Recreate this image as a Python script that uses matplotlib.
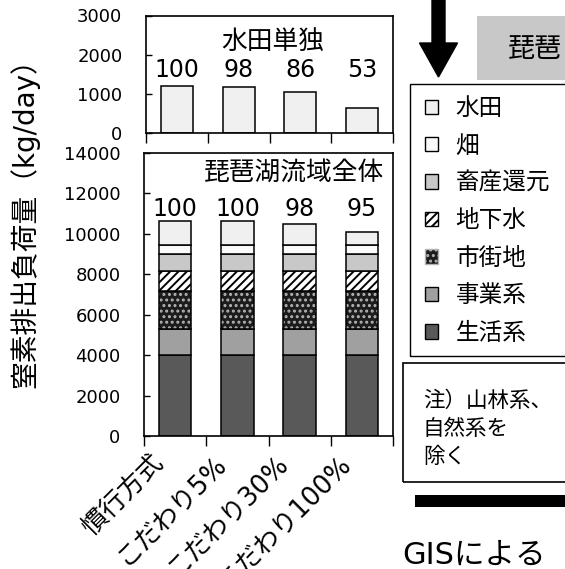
import numpy as np
import matplotlib
matplotlib.use('Agg')
import matplotlib.pyplot as plt
import matplotlib.patches as mpatches

# 数字は DejaVu、日本語は Noto にフォールバック
plt.rcParams['font.family'] = ['DejaVu Sans', 'Noto Sans CJK JP']
plt.rcParams['hatch.linewidth'] = 1.4

# --- データ (kg/day) ---
cases = ['慣行方式', 'こだわり5%', 'こだわり30%', 'こだわり100%']
seikatsu = [4010, 4010, 4010, 4010]    # 生活系
jigyou = [1270, 1270, 1270, 1270]      # 事業系
shigaichi = [1910, 1910, 1910, 1910]   # 市街地
chikasui = [990, 990, 990, 990]        # 地下水
chikusan = [830, 830, 830, 830]        # 畜産還元
hatake = [440, 440, 440, 440]          # 畑
suiden = [1210, 1180, 1040, 650]       # 水田
pct_suiden = ['100', '98', '86', '53']
pct_total = ['100', '100', '98', '95']

# 積み上げ順（下から）: 名前, 値, 塗り, ハッチ, ハッチ色
layers = [
    ('生活系', seikatsu, '#595959', None, None),
    ('事業系', jigyou, '#a0a0a0', None, None),
    ('市街地', shigaichi, '#1c1c1c', '...', '#b4b4b4'),
    ('地下水', chikasui, 'white', '////', 'black'),
    ('畜産還元', chikusan, '#c8c8c8', None, None),
    ('畑', hatake, '#fafafa', None, None),
    ('水田', suiden, '#f0f0f0', None, None),
]

W, H = 565, 569
fig = plt.figure(figsize=(W / 100, H / 100), dpi=100)

def px_axes(l, t, r, b):
    return fig.add_axes([l / W, 1 - b / H, (r - l) / W, (b - t) / H])

ax1 = px_axes(146, 15.5, 393, 133)   # 水田単独
ax2 = px_axes(144, 153, 393, 436)    # 流域全体

x = np.arange(len(cases))
bw = 0.52

# 上段：水田のみ
ax1.bar(x, suiden, bw, color='#f0f0f0', edgecolor='black', linewidth=1.1)
for i, t in enumerate(pct_suiden):
    ax1.text(x[i], 1430, t, ha='center', va='baseline', fontsize=17)
ax1.text(0.514, 0.775, '水田単独', transform=ax1.transAxes,
         ha='center', va='center', fontsize=18.5)
ax1.set_ylim(0, 3000)
ax1.set_yticks([0, 1000, 2000, 3000])

# 下段：積み上げ
bottom = np.zeros(len(cases))
for name, vals, fc, hatch, hc in layers:
    if hatch:
        ax2.bar(x, vals, bw, bottom=bottom, color=fc, edgecolor=hc,
                hatch=hatch, linewidth=0)
        ax2.bar(x, vals, bw, bottom=bottom, fill=False,
                edgecolor='black', linewidth=1.1)
    else:
        ax2.bar(x, vals, bw, bottom=bottom, color=fc,
                edgecolor='black', linewidth=1.1)
    bottom += np.array(vals)
for i, t in enumerate(pct_total):
    ax2.text(x[i], 10900, t, ha='center', va='baseline', fontsize=17)
ax2.text(0.965, 0.929, '琵琶湖流域全体', transform=ax2.transAxes,
         ha='right', va='center', fontsize=18.5)
ax2.set_ylim(0, 14000)
ax2.set_yticks(np.arange(0, 14001, 2000))

for ax in (ax1, ax2):
    ax.set_xlim(-0.5, len(cases) - 0.5)
    ax.set_xticks(np.arange(-0.5, len(cases), 1))
    ax.set_xticklabels([])
    ax.tick_params(axis='x', which='major', direction='out', length=7, width=1)
    ax.tick_params(axis='y', direction='in', length=4, width=1, pad=17,
                   labelsize=13)
    for s in ax.spines.values():
        s.set_linewidth(1.2)

# カテゴリ名（少し左に寄せて回転）
ax2.set_xticks(x - 0.1, cases, minor=True)
ax2.tick_params(axis='x', which='minor', length=0, pad=10, labelsize=18.5,
                labelrotation=45)
for lab in ax2.get_xticklabels(minor=True):
    lab.set_ha('right')

fig.text(24 / W, 1 - 216 / H, '窒素排出負荷量（kg/day）', rotation=90,
         ha='center', va='center', fontsize=20)

# --- 右側の図形（スライドの一部）---
tf = fig.transFigure
fig.add_artist(mpatches.FancyArrow(438.5 / W, 1.01, 0, -(77 / H + 0.01),
                                   width=13 / W, head_width=38 / W,
                                   head_length=34 / H, color='black',
                                   length_includes_head=True, transform=tf))
fig.add_artist(mpatches.Rectangle((477 / W, 1 - 80 / H), 0.2, 64 / H,
                                  facecolor='#c8c8c8', edgecolor='none',
                                  transform=tf))
fig.text(508 / W, 1 - 50 / H, '琵琶', ha='left', va='center', fontsize=19.5)

# 凡例
handles = []
for name, vals, fc, hatch, hc in layers[::-1]:
    handles.append(mpatches.Patch(facecolor=fc, edgecolor=(hc or 'black'),
                                  hatch=hatch, linewidth=1, label=name))
fig.legend(handles=handles, loc='upper left',
           bbox_to_anchor=(425 / W, 1 - 96 / H), frameon=False,
           fontsize=17, handlelength=0.55, handleheight=0.55,
           handletextpad=0.75, labelspacing=0.57, borderpad=0,
           borderaxespad=0)
fig.add_artist(mpatches.Rectangle((410 / W, 1 - 356 / H), 0.5, 272 / H,
                                  fill=False, edgecolor='black', linewidth=1,
                                  transform=tf))

# 注記
fig.add_artist(mpatches.Rectangle((403 / W, 1 - 482 / H), 0.5, 119 / H,
                                  fill=False, edgecolor='black', linewidth=1.2,
                                  transform=tf))
fig.text(423 / W, 1 - 390 / H, '注）山林系、\n自然系を\n除く', ha='left',
         va='top', fontsize=15.5, linespacing=1.5)

fig.add_artist(mpatches.Rectangle((415 / W, 1 - 507 / H), 0.5, 12 / H,
                                  facecolor='black', edgecolor='none',
                                  transform=tf))
fig.text(402 / W, 1 - 555 / H, 'GISによる', ha='left', va='center',
         fontsize=22)

fig.savefig('out.png', dpi=100)
